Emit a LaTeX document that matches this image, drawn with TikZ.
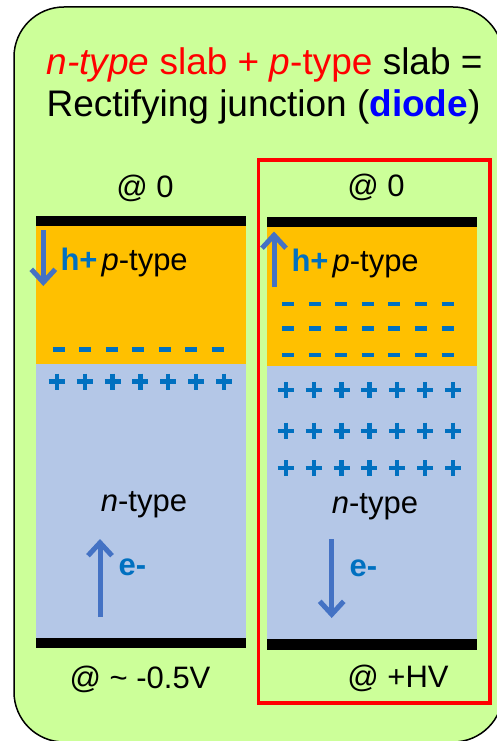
\documentclass[tikz,border=0pt]{standalone}
\usepackage{fontspec}
\setmainfont{Liberation Sans}
\usetikzlibrary{arrows.meta}
\definecolor{bggreen}{HTML}{CCFF99}
\definecolor{porange}{HTML}{FFC000}
\definecolor{nblue}{HTML}{B4C7E7}
\definecolor{arrblue}{HTML}{4472C4}
\definecolor{sigblue}{HTML}{0070C0}
\definecolor{diodeblue}{HTML}{0000FF}
\begin{document}
\begin{tikzpicture}[x=1pt,y=-1pt,
  titletext/.style={anchor=base,font=\fontsize{37}{44}\selectfont},
  lbl/.style={anchor=base,font=\fontsize{31}{37}\selectfont},
  lblw/.style={anchor=base west,font=\fontsize{31}{37}\selectfont},
  contact/.style={fill=black},
  pslab/.style={fill=porange},
  nslab/.style={fill=nblue},
  carrier/.style={draw=arrblue,line width=5,-{Straight Barb[length=13,width=24]}},
  minussign/.style={draw=sigblue,line width=4.5},
  plussign/.style={draw=sigblue,line width=4.2},
  chg/.style={text=sigblue,font=\bfseries}]
\clip (0,0) rectangle (497,741);
\useasboundingbox (0,0) rectangle (497,741);
% outer rounded panel
\draw[fill=bggreen,line width=1.5,rounded corners=50] (14,7) rectangle (503,742);
% title
\node[titletext] (t1) at (264.5,75) {\textcolor{red}{\textit{n-type} slab + \textit{p}-type} slab =};
\node[titletext] (t2) at (263.5,117) {Rectifying junction (\textcolor{diodeblue}{\bfseries diode})};

% ---------- left junction ----------
\fill[pslab] (36,226) rectangle (246,364);
\fill[nslab] (36,364) rectangle (246,638);
\fill[contact] (36,216) rectangle (246,226);
\fill[contact] (36,638) rectangle (246,648);
\node[lbl] (lt) at (145,197) {@ 0};
\node[lblw] (lh) at (57,270) {\textcolor{sigblue}{\bfseries h+}\kern4pt\textit{p}-type};
\foreach \i in {0,...,6}
  \draw[minussign] ({58.8+26.5*\i-6},349.5) -- ++(12,0);
\foreach \i in {0,...,6}
  \draw[plussign] ({56.7+27.9*\i-8},381.5) -- ++(16,0) ++(-8,-8) -- ++(0,16);
\node[lbl] (ln) at (144,511) {\textit{n}-type};
\node[lblw] (le) at (115,575) {\textcolor{sigblue}{\bfseries e-}};
\node[lbl] (lb) at (140,688) {@ \char`\~{} -0.5V};
\coordinate (lha) at (43.3,230);
\coordinate (lhb) at (43.3,286);
\draw[carrier] (lha) -- (lhb);
\coordinate (lea) at (100,617);
\coordinate (leb) at (100,539);
\draw[carrier] (lea) -- (leb);

% ---------- right junction ----------
\draw[red,line width=3.5] (258.5,160) rectangle (490,703);
\fill[pslab] (267,227) rectangle (477,366);
\fill[nslab] (267,366) rectangle (477,639);
\fill[contact] (267,217) rectangle (477,227);
\fill[contact] (267,639) rectangle (477,650);
\node[lbl] (rt) at (376,196) {@ 0};
\node[lblw] (rh) at (288,271) {\textcolor{sigblue}{\bfseries h+}\kern4pt\textit{p}-type};
\foreach \r in {304,328.3,355}
  \foreach \i in {0,...,6}
    \draw[minussign] ({288.2+26.55*\i-6},\r) -- ++(12,0);
\foreach \r in {390,430.7,468.3}
  \foreach \i in {0,...,6}
    \draw[plussign] ({285.7+27.9*\i-8},\r) -- ++(16,0) ++(-8,-8) -- ++(0,16);
\node[lbl] (rn) at (375,513) {\textit{n}-type};
\node[lblw] (re) at (346,576) {\textcolor{sigblue}{\bfseries e-}};
\node[lbl] (rb) at (398,687) {@ +HV};
\coordinate (rha) at (274,287);
\coordinate (rhb) at (274,231.5);
\draw[carrier] (rha) -- (rhb);
\coordinate (rea) at (331.7,539);
\coordinate (reb) at (331.7,618);
\draw[carrier] (rea) -- (reb);
\end{tikzpicture}
\end{document}
